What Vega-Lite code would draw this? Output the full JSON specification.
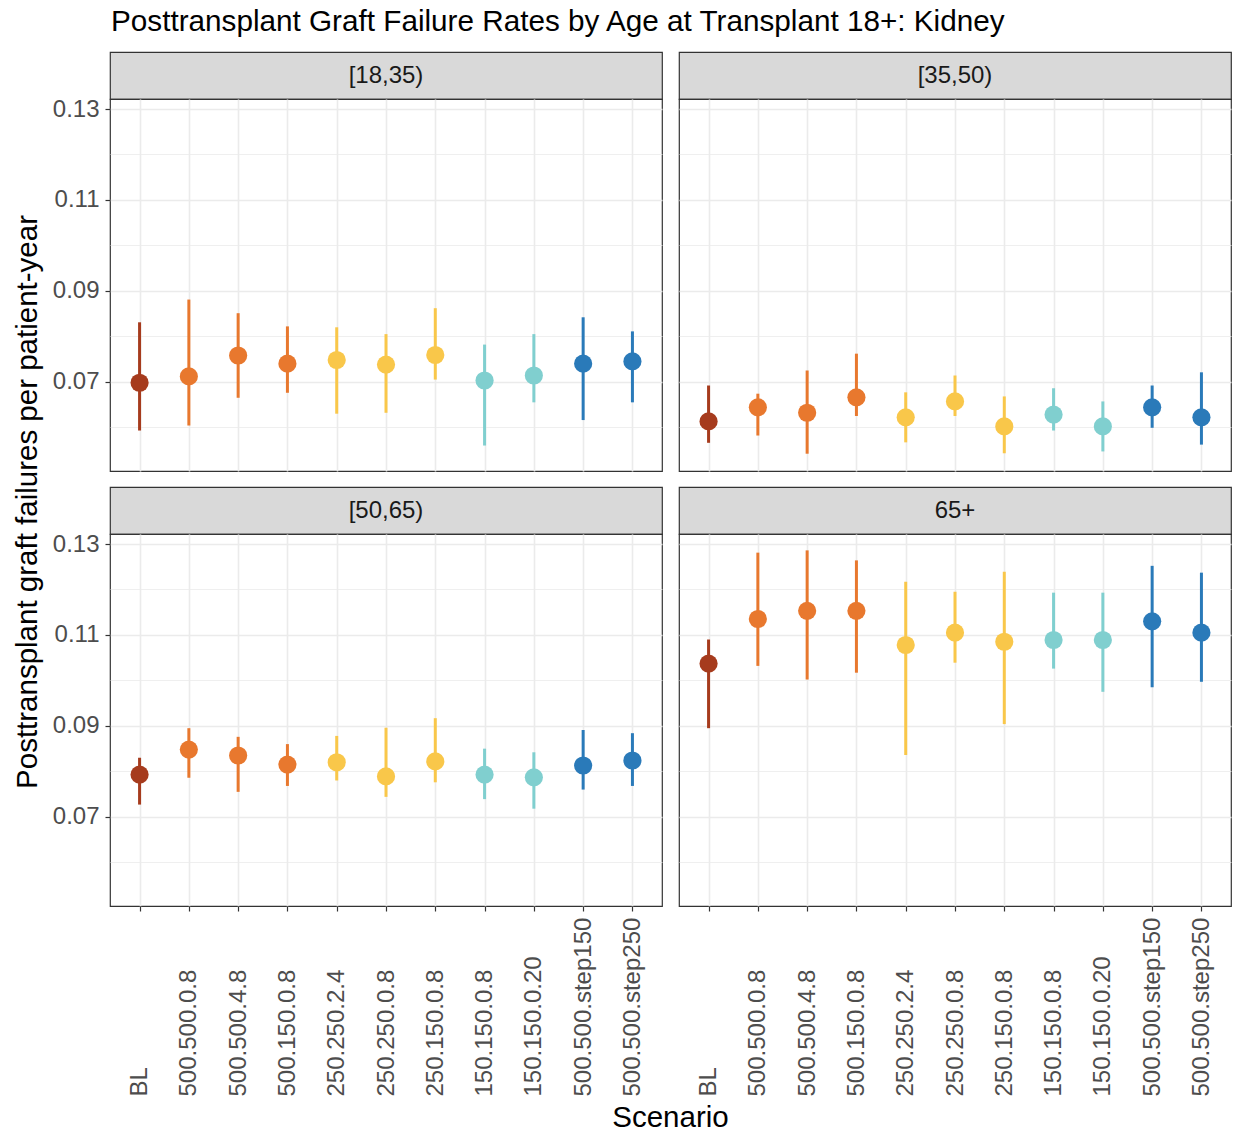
{
  "$schema": "https://vega.github.io/schema/vega-lite/v6.json",
  "padding": {"left": 12, "top": 6, "right": 5, "bottom": 0},
  "background": "white",
  "title": {"text": "Posttransplant Graft Failure Rates by Age at Transplant 18+: Kidney", "anchor": "start", "fontSize": 29.7, "fontWeight": "normal", "color": "#000000", "dx": 98, "offset": 14},
  "datasets": {
    "d": [
      {"age": "[18,35)", "scenario": "BL", "est": 0.0698, "lo": 0.0593, "hi": 0.0831},
      {"age": "[18,35)", "scenario": "500.500.0.8", "est": 0.0712, "lo": 0.0604, "hi": 0.0881},
      {"age": "[18,35)", "scenario": "500.500.4.8", "est": 0.0758, "lo": 0.0665, "hi": 0.0851},
      {"age": "[18,35)", "scenario": "500.150.0.8", "est": 0.0740, "lo": 0.0676, "hi": 0.0822},
      {"age": "[18,35)", "scenario": "250.250.2.4", "est": 0.0748, "lo": 0.0630, "hi": 0.0820},
      {"age": "[18,35)", "scenario": "250.250.0.8", "est": 0.0738, "lo": 0.0632, "hi": 0.0805},
      {"age": "[18,35)", "scenario": "250.150.0.8", "est": 0.0759, "lo": 0.0705, "hi": 0.0862},
      {"age": "[18,35)", "scenario": "150.150.0.8", "est": 0.0703, "lo": 0.0560, "hi": 0.0782},
      {"age": "[18,35)", "scenario": "150.150.0.20", "est": 0.0714, "lo": 0.0655, "hi": 0.0805},
      {"age": "[18,35)", "scenario": "500.500.step150", "est": 0.0740, "lo": 0.0616, "hi": 0.0842},
      {"age": "[18,35)", "scenario": "500.500.step250", "est": 0.0745, "lo": 0.0655, "hi": 0.0811},
      {"age": "[35,50)", "scenario": "BL", "est": 0.0613, "lo": 0.0566, "hi": 0.0692},
      {"age": "[35,50)", "scenario": "500.500.0.8", "est": 0.0644, "lo": 0.0582, "hi": 0.0674},
      {"age": "[35,50)", "scenario": "500.500.4.8", "est": 0.0632, "lo": 0.0542, "hi": 0.0725},
      {"age": "[35,50)", "scenario": "500.150.0.8", "est": 0.0666, "lo": 0.0625, "hi": 0.0762},
      {"age": "[35,50)", "scenario": "250.250.2.4", "est": 0.0622, "lo": 0.0567, "hi": 0.0677},
      {"age": "[35,50)", "scenario": "250.250.0.8", "est": 0.0657, "lo": 0.0625, "hi": 0.0714},
      {"age": "[35,50)", "scenario": "250.150.0.8", "est": 0.0602, "lo": 0.0543, "hi": 0.0668},
      {"age": "[35,50)", "scenario": "150.150.0.8", "est": 0.0628, "lo": 0.0593, "hi": 0.0686},
      {"age": "[35,50)", "scenario": "150.150.0.20", "est": 0.0602, "lo": 0.0547, "hi": 0.0657},
      {"age": "[35,50)", "scenario": "500.500.step150", "est": 0.0644, "lo": 0.0599, "hi": 0.0692},
      {"age": "[35,50)", "scenario": "500.500.step250", "est": 0.0622, "lo": 0.0562, "hi": 0.0721},
      {"age": "[50,65)", "scenario": "BL", "est": 0.0793, "lo": 0.0727, "hi": 0.0830},
      {"age": "[50,65)", "scenario": "500.500.0.8", "est": 0.0848, "lo": 0.0786, "hi": 0.0895},
      {"age": "[50,65)", "scenario": "500.500.4.8", "est": 0.0835, "lo": 0.0755, "hi": 0.0876},
      {"age": "[50,65)", "scenario": "500.150.0.8", "est": 0.0815, "lo": 0.0768, "hi": 0.0860},
      {"age": "[50,65)", "scenario": "250.250.2.4", "est": 0.0820, "lo": 0.0780, "hi": 0.0878},
      {"age": "[50,65)", "scenario": "250.250.0.8", "est": 0.0789, "lo": 0.0744, "hi": 0.0896},
      {"age": "[50,65)", "scenario": "250.150.0.8", "est": 0.0822, "lo": 0.0776, "hi": 0.0917},
      {"age": "[50,65)", "scenario": "150.150.0.8", "est": 0.0793, "lo": 0.0739, "hi": 0.0850},
      {"age": "[50,65)", "scenario": "150.150.0.20", "est": 0.0787, "lo": 0.0718, "hi": 0.0842},
      {"age": "[50,65)", "scenario": "500.500.step150", "est": 0.0813, "lo": 0.0760, "hi": 0.0891},
      {"age": "[50,65)", "scenario": "500.500.step250", "est": 0.0824, "lo": 0.0768, "hi": 0.0884},
      {"age": "65+", "scenario": "BL", "est": 0.1037, "lo": 0.0895, "hi": 0.1090},
      {"age": "65+", "scenario": "500.500.0.8", "est": 0.1135, "lo": 0.1032, "hi": 0.1281},
      {"age": "65+", "scenario": "500.500.4.8", "est": 0.1153, "lo": 0.1002, "hi": 0.1286},
      {"age": "65+", "scenario": "500.150.0.8", "est": 0.1153, "lo": 0.1017, "hi": 0.1264},
      {"age": "65+", "scenario": "250.250.2.4", "est": 0.1078, "lo": 0.0836, "hi": 0.1217},
      {"age": "65+", "scenario": "250.250.0.8", "est": 0.1105, "lo": 0.1039, "hi": 0.1195},
      {"age": "65+", "scenario": "250.150.0.8", "est": 0.1085, "lo": 0.0904, "hi": 0.1239},
      {"age": "65+", "scenario": "150.150.0.8", "est": 0.1089, "lo": 0.1026, "hi": 0.1193},
      {"age": "65+", "scenario": "150.150.0.20", "est": 0.1089, "lo": 0.0975, "hi": 0.1193},
      {"age": "65+", "scenario": "500.500.step150", "est": 0.1130, "lo": 0.0985, "hi": 0.1252},
      {"age": "65+", "scenario": "500.500.step250", "est": 0.1105, "lo": 0.0997, "hi": 0.1237}
    ]
  },
  "hconcat": [
    {
      "width": 30, "height": 900,
      "data": {"values": [{"t": "Posttransplant graft failures per patient-year"}]},
      "mark": {"type": "text", "angle": 270, "fontSize": 29.5, "color": "#000000"},
      "encoding": {"text": {"field": "t", "type": "nominal"}},
      "view": {"stroke": null}
    },
    {
      "spacing": 6,
      "vconcat": [
        {
          "spacing": 14,
          "vconcat": [
            {
              "spacing": 15,
              "hconcat": [
                {
                  "spacing": 0, "bounds": "flush",
                  "vconcat": [
                    {"width": 552, "height": 47, "data": {"values": [{"age": "[18,35)"}]}, "mark": {"type": "text", "fontSize": 24, "color": "#1A1A1A"}, "encoding": {"text": {"field": "age", "type": "nominal"}}, "view": {"fill": "#D9D9D9", "stroke": "#333333", "strokeWidth": 1.2}},
                    {
                      "width": 552, "height": 372,
                      "data": {"name": "d"},
                      "transform": [{"filter": "datum.age === '[18,35)'"}],
                      "encoding": {
                        "x": {"field": "scenario", "type": "nominal", "scale": {"type": "point", "padding": 0.6, "domain": ["BL", "500.500.0.8", "500.500.4.8", "500.150.0.8", "250.250.2.4", "250.250.0.8", "250.150.0.8", "150.150.0.8", "150.150.0.20", "500.500.step150", "500.500.step250"]}, "axis": {"title": null, "grid": true, "gridColor": "#EBEBEB", "gridWidth": 1.6, "labels": false, "ticks": false, "domain": false}},
                        "color": {"field": "scenario", "type": "nominal", "scale": {"domain": ["BL", "500.500.0.8", "500.500.4.8", "500.150.0.8", "250.250.2.4", "250.250.0.8", "250.150.0.8", "150.150.0.8", "150.150.0.20", "500.500.step150", "500.500.step250"], "range": ["#A63B1D", "#E8782E", "#E8782E", "#E8782E", "#F9C74A", "#F9C74A", "#F9C74A", "#80CFCF", "#80CFCF", "#2A7AB9", "#2A7AB9"]}, "legend": null}
                      },
                      "layer": [
                        {"mark": {"type": "rule", "strokeWidth": 3}, "encoding": {"y": {"field": "lo", "type": "quantitative", "scale": {"domain": [0.0504, 0.1322], "nice": false, "zero": false}, "axis": {"title": null, "values": [0.06, 0.07, 0.08, 0.09, 0.1, 0.11, 0.12, 0.13], "labelExpr": "round(datum.value*100)%2==1 ? format(datum.value,'.2f') : ''", "labelOverlap": false, "tickOpacity": {"condition": {"test": "round(datum.value*100)%2==1", "value": 1}, "value": 0}, "gridColor": "#EBEBEB", "gridWidth": {"condition": {"test": "round(datum.value*100)%2==1", "value": 1.6}, "value": 0.8}, "labelFontSize": 24, "labelColor": "#4D4D4D", "labelPadding": 6, "tickSize": 5, "tickColor": "#333333", "tickWidth": 1.2, "domain": false}}, "y2": {"field": "hi"}}},
                        {"mark": {"type": "circle", "size": 330, "opacity": 1}, "encoding": {"y": {"field": "est", "type": "quantitative", "axis": {"title": null, "values": [0.06, 0.07, 0.08, 0.09, 0.1, 0.11, 0.12, 0.13], "labelExpr": "round(datum.value*100)%2==1 ? format(datum.value,'.2f') : ''", "labelOverlap": false, "tickOpacity": {"condition": {"test": "round(datum.value*100)%2==1", "value": 1}, "value": 0}, "gridColor": "#EBEBEB", "gridWidth": {"condition": {"test": "round(datum.value*100)%2==1", "value": 1.6}, "value": 0.8}, "labelFontSize": 24, "labelColor": "#4D4D4D", "labelPadding": 6, "tickSize": 5, "tickColor": "#333333", "tickWidth": 1.2, "domain": false}}}}
                      ]
                    }
                  ]
                },
                {
                  "spacing": 0, "bounds": "flush",
                  "vconcat": [
                    {"width": 552, "height": 47, "data": {"values": [{"age": "[35,50)"}]}, "mark": {"type": "text", "fontSize": 24, "color": "#1A1A1A"}, "encoding": {"text": {"field": "age", "type": "nominal"}}, "view": {"fill": "#D9D9D9", "stroke": "#333333", "strokeWidth": 1.2}},
                    {
                      "width": 552, "height": 372,
                      "data": {"name": "d"},
                      "transform": [{"filter": "datum.age === '[35,50)'"}],
                      "encoding": {
                        "x": {"field": "scenario", "type": "nominal", "scale": {"type": "point", "padding": 0.6, "domain": ["BL", "500.500.0.8", "500.500.4.8", "500.150.0.8", "250.250.2.4", "250.250.0.8", "250.150.0.8", "150.150.0.8", "150.150.0.20", "500.500.step150", "500.500.step250"]}, "axis": {"title": null, "grid": true, "gridColor": "#EBEBEB", "gridWidth": 1.6, "labels": false, "ticks": false, "domain": false}},
                        "color": {"field": "scenario", "type": "nominal", "scale": {"domain": ["BL", "500.500.0.8", "500.500.4.8", "500.150.0.8", "250.250.2.4", "250.250.0.8", "250.150.0.8", "150.150.0.8", "150.150.0.20", "500.500.step150", "500.500.step250"], "range": ["#A63B1D", "#E8782E", "#E8782E", "#E8782E", "#F9C74A", "#F9C74A", "#F9C74A", "#80CFCF", "#80CFCF", "#2A7AB9", "#2A7AB9"]}, "legend": null}
                      },
                      "layer": [
                        {"mark": {"type": "rule", "strokeWidth": 3}, "encoding": {"y": {"field": "lo", "type": "quantitative", "scale": {"domain": [0.0504, 0.1322], "nice": false, "zero": false}, "axis": {"title": null, "values": [0.06, 0.07, 0.08, 0.09, 0.1, 0.11, 0.12, 0.13], "labels": false, "ticks": false, "domain": false, "gridColor": "#EBEBEB", "gridWidth": {"condition": {"test": "round(datum.value*100)%2==1", "value": 1.6}, "value": 0.8}}}, "y2": {"field": "hi"}}},
                        {"mark": {"type": "circle", "size": 330, "opacity": 1}, "encoding": {"y": {"field": "est", "type": "quantitative", "axis": {"title": null, "values": [0.06, 0.07, 0.08, 0.09, 0.1, 0.11, 0.12, 0.13], "labels": false, "ticks": false, "domain": false, "gridColor": "#EBEBEB", "gridWidth": {"condition": {"test": "round(datum.value*100)%2==1", "value": 1.6}, "value": 0.8}}}}}
                      ]
                    }
                  ]
                }
              ]
            },
            {
              "spacing": 15,
              "hconcat": [
                {
                  "spacing": 0, "bounds": "flush",
                  "vconcat": [
                    {"width": 552, "height": 47, "data": {"values": [{"age": "[50,65)"}]}, "mark": {"type": "text", "fontSize": 24, "color": "#1A1A1A"}, "encoding": {"text": {"field": "age", "type": "nominal"}}, "view": {"fill": "#D9D9D9", "stroke": "#333333", "strokeWidth": 1.2}},
                    {
                      "width": 552, "height": 372,
                      "data": {"name": "d"},
                      "transform": [{"filter": "datum.age === '[50,65)'"}],
                      "encoding": {
                        "x": {"field": "scenario", "type": "nominal", "scale": {"type": "point", "padding": 0.6, "domain": ["BL", "500.500.0.8", "500.500.4.8", "500.150.0.8", "250.250.2.4", "250.250.0.8", "250.150.0.8", "150.150.0.8", "150.150.0.20", "500.500.step150", "500.500.step250"]}, "axis": {"title": null, "grid": true, "gridColor": "#EBEBEB", "gridWidth": 1.6, "labelAngle": -90, "labelAlign": "left", "labelBaseline": "middle", "labelPadding": 185, "labelFontSize": 24, "labelColor": "#4D4D4D", "labelLimit": 400, "labelOverlap": false, "tickSize": 5, "tickColor": "#333333", "tickWidth": 1.2, "domain": false}},
                        "color": {"field": "scenario", "type": "nominal", "scale": {"domain": ["BL", "500.500.0.8", "500.500.4.8", "500.150.0.8", "250.250.2.4", "250.250.0.8", "250.150.0.8", "150.150.0.8", "150.150.0.20", "500.500.step150", "500.500.step250"], "range": ["#A63B1D", "#E8782E", "#E8782E", "#E8782E", "#F9C74A", "#F9C74A", "#F9C74A", "#80CFCF", "#80CFCF", "#2A7AB9", "#2A7AB9"]}, "legend": null}
                      },
                      "layer": [
                        {"mark": {"type": "rule", "strokeWidth": 3}, "encoding": {"y": {"field": "lo", "type": "quantitative", "scale": {"domain": [0.0504, 0.1322], "nice": false, "zero": false}, "axis": {"title": null, "values": [0.06, 0.07, 0.08, 0.09, 0.1, 0.11, 0.12, 0.13], "labelExpr": "round(datum.value*100)%2==1 ? format(datum.value,'.2f') : ''", "labelOverlap": false, "tickOpacity": {"condition": {"test": "round(datum.value*100)%2==1", "value": 1}, "value": 0}, "gridColor": "#EBEBEB", "gridWidth": {"condition": {"test": "round(datum.value*100)%2==1", "value": 1.6}, "value": 0.8}, "labelFontSize": 24, "labelColor": "#4D4D4D", "labelPadding": 6, "tickSize": 5, "tickColor": "#333333", "tickWidth": 1.2, "domain": false}}, "y2": {"field": "hi"}}},
                        {"mark": {"type": "circle", "size": 330, "opacity": 1}, "encoding": {"y": {"field": "est", "type": "quantitative", "axis": {"title": null, "values": [0.06, 0.07, 0.08, 0.09, 0.1, 0.11, 0.12, 0.13], "labelExpr": "round(datum.value*100)%2==1 ? format(datum.value,'.2f') : ''", "labelOverlap": false, "tickOpacity": {"condition": {"test": "round(datum.value*100)%2==1", "value": 1}, "value": 0}, "gridColor": "#EBEBEB", "gridWidth": {"condition": {"test": "round(datum.value*100)%2==1", "value": 1.6}, "value": 0.8}, "labelFontSize": 24, "labelColor": "#4D4D4D", "labelPadding": 6, "tickSize": 5, "tickColor": "#333333", "tickWidth": 1.2, "domain": false}}}}
                      ]
                    }
                  ]
                },
                {
                  "spacing": 0, "bounds": "flush",
                  "vconcat": [
                    {"width": 552, "height": 47, "data": {"values": [{"age": "65+"}]}, "mark": {"type": "text", "fontSize": 24, "color": "#1A1A1A"}, "encoding": {"text": {"field": "age", "type": "nominal"}}, "view": {"fill": "#D9D9D9", "stroke": "#333333", "strokeWidth": 1.2}},
                    {
                      "width": 552, "height": 372,
                      "data": {"name": "d"},
                      "transform": [{"filter": "datum.age === '65+'"}],
                      "encoding": {
                        "x": {"field": "scenario", "type": "nominal", "scale": {"type": "point", "padding": 0.6, "domain": ["BL", "500.500.0.8", "500.500.4.8", "500.150.0.8", "250.250.2.4", "250.250.0.8", "250.150.0.8", "150.150.0.8", "150.150.0.20", "500.500.step150", "500.500.step250"]}, "axis": {"title": null, "grid": true, "gridColor": "#EBEBEB", "gridWidth": 1.6, "labelAngle": -90, "labelAlign": "left", "labelBaseline": "middle", "labelPadding": 185, "labelFontSize": 24, "labelColor": "#4D4D4D", "labelLimit": 400, "labelOverlap": false, "tickSize": 5, "tickColor": "#333333", "tickWidth": 1.2, "domain": false}},
                        "color": {"field": "scenario", "type": "nominal", "scale": {"domain": ["BL", "500.500.0.8", "500.500.4.8", "500.150.0.8", "250.250.2.4", "250.250.0.8", "250.150.0.8", "150.150.0.8", "150.150.0.20", "500.500.step150", "500.500.step250"], "range": ["#A63B1D", "#E8782E", "#E8782E", "#E8782E", "#F9C74A", "#F9C74A", "#F9C74A", "#80CFCF", "#80CFCF", "#2A7AB9", "#2A7AB9"]}, "legend": null}
                      },
                      "layer": [
                        {"mark": {"type": "rule", "strokeWidth": 3}, "encoding": {"y": {"field": "lo", "type": "quantitative", "scale": {"domain": [0.0504, 0.1322], "nice": false, "zero": false}, "axis": {"title": null, "values": [0.06, 0.07, 0.08, 0.09, 0.1, 0.11, 0.12, 0.13], "labels": false, "ticks": false, "domain": false, "gridColor": "#EBEBEB", "gridWidth": {"condition": {"test": "round(datum.value*100)%2==1", "value": 1.6}, "value": 0.8}}}, "y2": {"field": "hi"}}},
                        {"mark": {"type": "circle", "size": 330, "opacity": 1}, "encoding": {"y": {"field": "est", "type": "quantitative", "axis": {"title": null, "values": [0.06, 0.07, 0.08, 0.09, 0.1, 0.11, 0.12, 0.13], "labels": false, "ticks": false, "domain": false, "gridColor": "#EBEBEB", "gridWidth": {"condition": {"test": "round(datum.value*100)%2==1", "value": 1.6}, "value": 0.8}}}}}
                      ]
                    }
                  ]
                }
              ]
            }
          ]
        },
        {
          "width": 1121, "height": 2,
          "data": {"values": [{"t": "Scenario"}]},
          "mark": {"type": "text", "fontSize": 29.5, "color": "#000000"},
          "encoding": {"text": {"field": "t", "type": "nominal"}},
          "view": {"stroke": null}
        }
      ]
    }
  ],
  "config": {
    "font": "Liberation Sans",
    "view": {"stroke": "#333333", "strokeWidth": 1.2},
    "concat": {"spacing": 8}
  }
}
